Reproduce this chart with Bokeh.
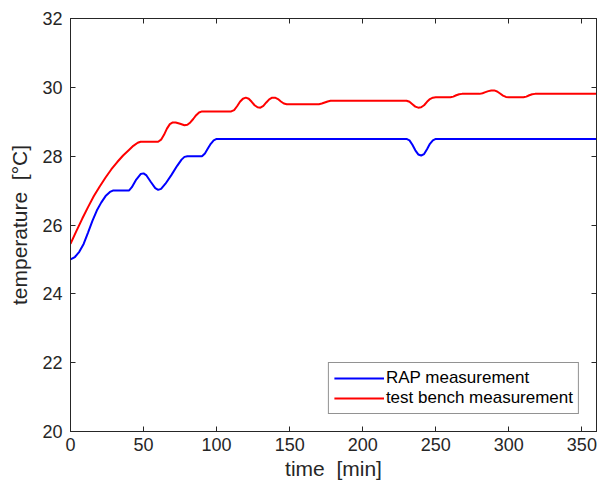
from bokeh.plotting import figure
from bokeh.models import LinearAxis, FixedTicker, Range1d, Legend, LegendItem
from bokeh.embed import file_html
from bokeh.resources import INLINE

# RAP measurement (time [min], temperature [°C])
rap_t = [0, 3, 6, 9, 12, 15, 18, 21, 24, 27, 29, 40, 42, 45, 48, 50, 52, 55, 58, 60,
         62, 65, 69, 73, 76, 78, 80, 90, 92, 94, 96, 98, 100, 230, 232, 234, 236, 238,
         240, 242, 244, 246, 248, 250, 360]
rap_v = [25.00, 25.07, 25.22, 25.45, 25.78, 26.12, 26.42, 26.65, 26.84, 26.96, 27.00,
         27.00, 27.10, 27.32, 27.48, 27.50, 27.44, 27.25, 27.07, 27.02, 27.05, 27.20,
         27.45, 27.72, 27.90, 27.98, 28.00, 28.00, 28.08, 28.22, 28.36, 28.46, 28.50,
         28.50, 28.46, 28.33, 28.17, 28.05, 28.02, 28.06, 28.20, 28.36, 28.46, 28.50,
         28.50]

# test bench measurement
tb_t = [0, 4, 8, 12, 16, 20, 24, 28, 32, 36, 40, 43, 46, 48, 60, 62, 64, 66, 68, 70,
        72, 75, 78, 80, 82, 84, 86, 88, 90, 110, 112, 114, 116, 118, 120, 122, 124, 126,
        128, 130, 132, 134, 136, 138, 140, 142, 144, 146, 148, 170, 172, 174, 176, 178,
        180, 230, 232, 234, 236, 238, 240, 242, 244, 246, 248, 250, 260, 262, 264, 266,
        268, 280, 282, 284, 286, 288, 290, 292, 294, 296, 298, 300, 310, 312, 314, 316,
        318, 320, 360]
tb_v = [25.45, 25.82, 26.18, 26.52, 26.84, 27.12, 27.38, 27.62, 27.83, 28.02, 28.18,
        28.30, 28.39, 28.42, 28.42, 28.48, 28.62, 28.80, 28.93, 28.98, 28.98, 28.94,
        28.90, 28.91, 28.98, 29.08, 29.19, 29.27, 29.30, 29.30, 29.34, 29.45, 29.58,
        29.67, 29.70, 29.67, 29.58, 29.48, 29.42, 29.41, 29.46, 29.56, 29.65, 29.70,
        29.70, 29.66, 29.59, 29.53, 29.51, 29.51, 29.53, 29.56, 29.59, 29.61, 29.61,
        29.61, 29.58, 29.51, 29.44, 29.41, 29.42, 29.48, 29.58, 29.66, 29.70, 29.71,
        29.71, 29.73, 29.77, 29.80, 29.81, 29.81, 29.83, 29.86, 29.89, 29.91, 29.91,
        29.88, 29.82, 29.76, 29.72, 29.71, 29.71, 29.73, 29.77, 29.80, 29.81, 29.81,
        29.81]

x_ticks = [0, 50, 100, 150, 200, 250, 300, 350]
y_ticks = [20, 22, 24, 26, 28, 30, 32]

FONT = "Liberation Sans"
AX = "#262626"
NB = "\u00a0"

p = figure(width=599, height=493, output_backend="svg", toolbar_location=None,
           x_range=Range1d(0, 360), y_range=Range1d(20, 32),
           min_border_left=70, min_border_right=3, min_border_top=18,
           min_border_bottom=62)
p.grid.visible = False
p.outline_line_color = AX
p.outline_line_width = 1
p.background_fill_color = "white"
p.border_fill_color = "white"

r1 = p.line(rap_t, rap_v, line_color="#0000ff", line_width=2)
r2 = p.line(tb_t, tb_v, line_color="#ff0000", line_width=2)

for ax, ticks in ((p.xaxis[0], x_ticks), (p.yaxis[0], y_ticks)):
    ax.ticker = FixedTicker(ticks=ticks)
    ax.major_tick_in = 5
    ax.major_tick_out = 0
    ax.minor_tick_line_color = None
    ax.axis_line_color = AX
    ax.major_tick_line_color = AX
    ax.major_label_text_color = AX
    ax.major_label_text_font = FONT
    ax.major_label_text_font_size = "18px"
    ax.axis_label_text_font = FONT
    ax.axis_label_text_font_size = "21px"
    ax.axis_label_text_font_style = "normal"
    ax.axis_label_text_color = AX

p.xaxis[0].axis_label = "time" + NB + NB + "[min]"
p.xaxis[0].major_label_standoff = 6
p.xaxis[0].axis_label_standoff = 3
p.yaxis[0].axis_label = "temperature" + NB + NB + "[°C]"
p.yaxis[0].major_label_standoff = 8
p.yaxis[0].axis_label_standoff = 8

for loc, ticks in (("right", y_ticks), ("above", x_ticks)):
    a = LinearAxis(ticker=FixedTicker(ticks=ticks), major_tick_in=5, major_tick_out=0,
                   minor_tick_line_color=None, axis_line_color=AX,
                   major_tick_line_color=AX,
                   major_label_overrides={t: "" for t in ticks},
                   major_label_standoff=0)
    p.add_layout(a, loc)

legend = Legend(items=[LegendItem(label="RAP measurement", renderers=[r1]),
                       LegendItem(label="test bench measurement", renderers=[r2])],
                location="bottom_right", margin=17,
                label_text_font=FONT, label_text_font_size="17px",
                label_text_color="black", border_line_color=AX, border_line_width=1,
                background_fill_color="white", background_fill_alpha=1,
                glyph_width=50, glyph_height=20, label_height=20, label_standoff=2,
                padding=5, spacing=0)
p.add_layout(legend, "center")

open("out.html", "w").write(file_html(p, INLINE))
